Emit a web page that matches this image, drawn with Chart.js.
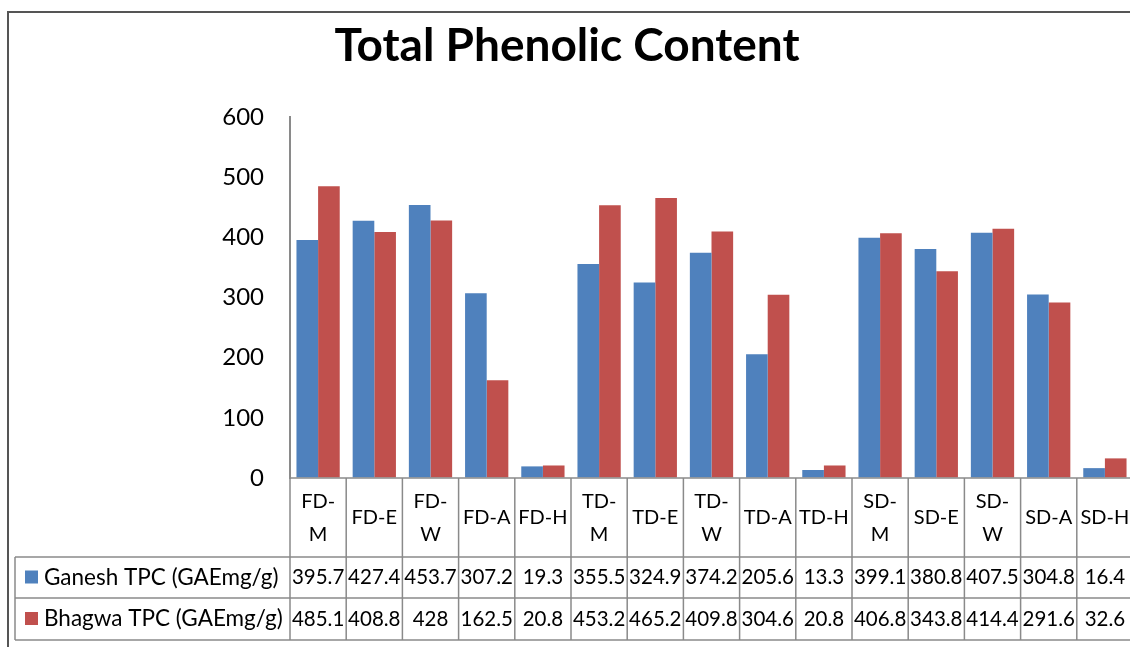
<!DOCTYPE html>
<html>
<head>
<meta charset="utf-8">
<script src="https://cdn.jsdelivr.net/npm/chart.js@4.4.1/dist/chart.umd.min.js"></script>
<style>
  html, body { margin: 0; padding: 0; background: #fff; overflow: hidden; }
  #wrap { width: 1134px; height: 647px; position: relative; }
</style>
</head>
<body>
<div id="wrap"><canvas id="Chart_tpc"></canvas></div>
<script>
// Data
const categories = ['FD-M', 'FD-E', 'FD-W', 'FD-A', 'FD-H', 'TD-M', 'TD-E', 'TD-W', 'TD-A', 'TD-H', 'SD-M', 'SD-E', 'SD-W', 'SD-A', 'SD-H'];
const ganeshTPC = [395.7, 427.4, 453.7, 307.2, 19.3, 355.5, 324.9, 374.2, 205.6, 13.3, 399.1, 380.8, 407.5, 304.8, 16.4];
const bhagwaTPC = [485.1, 408.8, 428, 162.5, 20.8, 453.2, 465.2, 409.8, 304.6, 20.8, 406.8, 343.8, 414.4, 291.6, 32.6];
const seriesNames = ['Ganesh TPC (GAEmg/g)', 'Bhagwa TPC (GAEmg/g)'];
const yTicks = [0, 100, 200, 300, 400, 500, 600];
const chartTitle = 'Total Phenolic Content';

const BLUE = '#4F81BD';
const RED = '#C0504D';
const LINE = '#8a8a8a';
const FONT = 'Lato, "Open Sans", sans-serif';

// draws the title, the frame and the Excel-style data table
const tablePlugin = {
  id: 'dataTable',
  afterDraw(chart) {
    const ctx = chart.ctx;
    const x = chart.scales.x;
    const area = chart.chartArea;
    const step = x.getPixelForValue(1) - x.getPixelForValue(0);
    const right = x.getPixelForValue(categories.length - 1) + step / 2;
    const rowTop = area.bottom;
    const row1 = 557, row2 = 598, row3 = 640;
    const legLeft = 15;

    ctx.save();

    // outer frame
    ctx.strokeStyle = '#555';
    ctx.lineWidth = 2;
    ctx.beginPath();
    ctx.moveTo(8, 647);
    ctx.lineTo(8, 12);
    ctx.lineTo(chart.width, 12);
    ctx.stroke();

    // title
    ctx.fillStyle = '#000';
    ctx.font = 'bold 46px ' + FONT;
    ctx.textAlign = 'center';
    ctx.textBaseline = 'middle';
    ctx.fillText(chartTitle, 567, 46);

    // table grid
    ctx.strokeStyle = LINE;
    ctx.lineWidth = 1.5;
    ctx.beginPath();
    ctx.moveTo(area.left, rowTop); ctx.lineTo(right, rowTop);
    [row1, row2, row3].forEach(y => { ctx.moveTo(legLeft, y); ctx.lineTo(right, y); });
    ctx.moveTo(legLeft, row1); ctx.lineTo(legLeft, row3);
    for (let i = 0; i <= categories.length; i++) {
      const bx = x.getPixelForValue(0) - step / 2 + i * step;
      ctx.moveTo(bx, rowTop); ctx.lineTo(bx, row3);
    }
    ctx.stroke();

    // category labels (wrapped at the dash when too wide)
    ctx.fillStyle = '#000';
    ctx.font = '20px ' + FONT;
    ctx.textAlign = 'center';
    categories.forEach((c, i) => {
      const cx = x.getPixelForValue(i);
      const mid = (rowTop + row1) / 2;
      if (ctx.measureText(c).width > step - 6) {
        const parts = c.split('-');
        ctx.fillText(parts[0] + '-', cx, mid - 16);
        ctx.fillText(parts[1], cx, mid + 17);
      } else {
        ctx.fillText(c, cx, mid);
      }
    });

    // value rows
    [ganeshTPC, bhagwaTPC].forEach((vals, r) => {
      const ymid = r === 0 ? (row1 + row2) / 2 : (row2 + row3) / 2;
      ctx.fillStyle = r === 0 ? BLUE : RED;
      ctx.fillRect(25, ymid - 7, 13, 13);
      ctx.fillStyle = '#000';
      ctx.textAlign = 'left';
      ctx.font = '22.5px ' + FONT;
      ctx.fillText(seriesNames[r], 44, ymid);
      ctx.textAlign = 'center';
      ctx.font = '20.5px ' + FONT;
      vals.forEach((v, i) => ctx.fillText(String(v), x.getPixelForValue(i), ymid));
    });

    ctx.restore();
  }
};

const ctx1 = document.getElementById('Chart_tpc').getContext('2d');

new Chart(ctx1, {
  type: 'bar',
  data: {
    labels: categories,
    datasets: [{
      label: seriesNames[0],
      data: ganeshTPC,
      backgroundColor: BLUE,
      categoryPercentage: 0.77,
      barPercentage: 1.0
    }, {
      label: seriesNames[1],
      data: bhagwaTPC,
      backgroundColor: RED,
      categoryPercentage: 0.77,
      barPercentage: 1.0
    }]
  },
  options: {
    responsive: true,
    maintainAspectRatio: false,
    animation: false,
    layout: {
      padding: { left: 0, right: 1, top: 117, bottom: 169 }
    },
    scales: {
      x: {
        display: false,
        offset: true
      },
      y: {
        min: 0,
        max: 600,
        afterFit: s => { s.width = 290; },
        afterBuildTicks: s => { s.ticks = yTicks.map(v => ({ value: v })); },
        grid: { drawOnChartArea: false, drawTicks: false },
        border: { display: true, color: LINE, width: 2 },
        ticks: {
          padding: 26,
          color: '#000',
          font: { size: 24, family: FONT }
        }
      }
    },
    plugins: {
      legend: { display: false },
      title: { display: false },
      tooltip: { enabled: false }
    }
  },
  plugins: [tablePlugin]
});
</script>
</body>
</html>
